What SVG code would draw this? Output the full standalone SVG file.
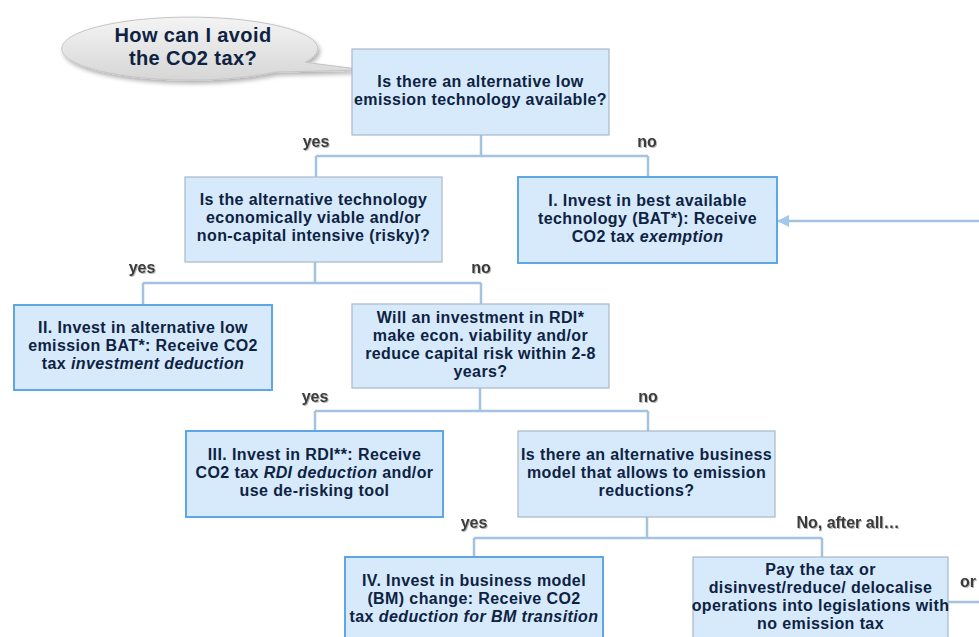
<svg xmlns="http://www.w3.org/2000/svg" width="979" height="637" viewBox="0 0 979 637">
<defs>
<linearGradient id="bub" x1="0" y1="0" x2="0" y2="1">
<stop offset="0" stop-color="#f4f4f4"/>
<stop offset="1" stop-color="#d6d6d6"/>
</linearGradient>
<filter id="sh" x="-10%" y="-20%" width="130%" height="160%">
<feDropShadow dx="2" dy="3" stdDeviation="2" flood-color="#000" flood-opacity="0.3"/>
</filter>
<filter id="tsh" x="-10%" y="-20%" width="130%" height="160%">
<feDropShadow dx="1" dy="1" stdDeviation="0.6" flood-color="#888" flood-opacity="0.6"/>
</filter>
<marker id="ah" viewBox="0 0 12 12" refX="12" refY="6" markerWidth="12" markerHeight="12" markerUnits="userSpaceOnUse" orient="auto">
<path d="M0,0 L12,6 L0,12 Z" fill="#a3c8ee"/>
</marker>
<style>
.q{fill:#d6eafc;stroke:#a9b8c8;stroke-width:1.2}
.a{fill:#d6eafc;stroke:#5ea6e4;stroke-width:2}
.t{font-family:"Liberation Sans",Arial,sans-serif;font-weight:bold;font-size:16px;letter-spacing:0.4px;fill:#0e2242;text-anchor:middle}
.bt{font-family:"Liberation Sans",Arial,sans-serif;font-weight:bold;font-size:20px;letter-spacing:0.4px;fill:#0e2242;text-anchor:middle}
.lbl{font-family:"Liberation Sans",Arial,sans-serif;font-weight:bold;font-size:16px;fill:#3a3a3a;text-anchor:middle}
.c{fill:none;stroke:#a5c3e0;stroke-width:2.5}
.i{font-style:italic}
</style>
</defs>

<g id="bubble">
<path d="M305,62.3 L366,70 L275,72.1 A128 31.5 0 1 1 305,62.3 Z" fill="url(#bub)" stroke="#c4c4c4" stroke-width="1" filter="url(#sh)"/>
<text class="bt"><tspan x="193" y="42">How can I avoid</tspan><tspan x="193" y="65">the CO2 tax?</tspan></text>
</g>

<g id="connectors">
<path class="c" d="M481,135 V156 M316,156 H648 M316,156 V177 M648,156 V177"/>
<path class="c" d="M315,262 V283 M143,283 H481 M143,283 V305 M481,283 V304"/>
<path class="c" d="M480,388 V411 M315,411 H648 M315,411 V431 M648,411 V431"/>
<path class="c" d="M647,517 V538 M474,538 H822 M474,538 V557 M822,538 V557"/>
<path class="c" d="M948,602 H979"/>
<path class="c" d="M979,221 H777" marker-end="url(#ah)"/>
</g>

<g id="labels" filter="url(#tsh)">
<text class="lbl" x="316" y="147">yes</text>
<text class="lbl" x="647" y="147">no</text>
<text class="lbl" x="142" y="273">yes</text>
<text class="lbl" x="481" y="273">no</text>
<text class="lbl" x="315" y="402">yes</text>
<text class="lbl" x="648" y="402">no</text>
<text class="lbl" x="474" y="528">yes</text>
<text class="lbl" x="848" y="528">No, after all…</text>
<text class="lbl" x="968" y="587">or</text>
</g>

<g id="q1">
<rect class="q" x="352" y="49" width="257" height="86"/>
<text class="t"><tspan x="480.5" y="87">Is there an alternative low</tspan><tspan x="480.5" y="105">emission technology available?</tspan></text>
</g>

<g id="q2">
<rect class="q" x="185" y="177" width="257" height="85"/>
<text class="t"><tspan x="313.5" y="205">Is the alternative technology</tspan><tspan x="313.5" y="223">economically viable and/or</tspan><tspan x="313.5" y="241">non-capital intensive (risky)?</tspan></text>
</g>

<g id="a1">
<rect class="a" x="518" y="177" width="259" height="86"/>
<text class="t"><tspan x="647.5" y="206">I. Invest in best available</tspan><tspan x="647.5" y="224">technology  (BAT*):  Receive</tspan><tspan x="647.5" y="242">CO2 tax <tspan class="i">exemption</tspan></tspan></text>
</g>

<g id="a2">
<rect class="a" x="14" y="305" width="258" height="85"/>
<text class="t"><tspan x="143" y="333">II. Invest in alternative low</tspan><tspan x="143" y="351">emission BAT*: Receive CO2</tspan><tspan x="143" y="369">tax <tspan class="i">investment deduction</tspan></tspan></text>
</g>

<g id="q3">
<rect class="q" x="352" y="304" width="257" height="84"/>
<text class="t"><tspan x="480.5" y="323">Will an investment in RDI*</tspan><tspan x="480.5" y="341">make econ. viability and/or</tspan><tspan x="480.5" y="359">reduce capital risk within 2-8</tspan><tspan x="480.5" y="377">years?</tspan></text>
</g>

<g id="a3">
<rect class="a" x="186" y="431" width="257" height="86"/>
<text class="t"><tspan x="314.5" y="460">III. Invest in RDI**: Receive</tspan><tspan x="314.5" y="478">CO2 tax <tspan class="i">RDI deduction</tspan> and/or</tspan><tspan x="314.5" y="496">use de-risking tool</tspan></text>
</g>

<g id="q4">
<rect class="q" x="518" y="431" width="257" height="86"/>
<text class="t"><tspan x="646.5" y="460">Is there an alternative  business</tspan><tspan x="646.5" y="478">model that allows to emission</tspan><tspan x="646.5" y="496">reductions?</tspan></text>
</g>

<g id="a4">
<rect class="a" x="345" y="557" width="258" height="86"/>
<text class="t"><tspan x="474" y="586">IV. Invest in business model</tspan><tspan x="474" y="604">(BM) change: Receive CO2</tspan><tspan x="474" y="622">tax <tspan class="i">deduction for BM transition</tspan></tspan></text>
</g>

<g id="v">
<rect class="q" x="693" y="557" width="255" height="86"/>
<text class="t"><tspan x="820.5" y="575">Pay the tax  or</tspan><tspan x="820.5" y="593">disinvest/reduce/ delocalise</tspan><tspan x="820.5" y="611">operations into legislations with</tspan><tspan x="820.5" y="629">no emission tax</tspan></text>
</g>
</svg>
